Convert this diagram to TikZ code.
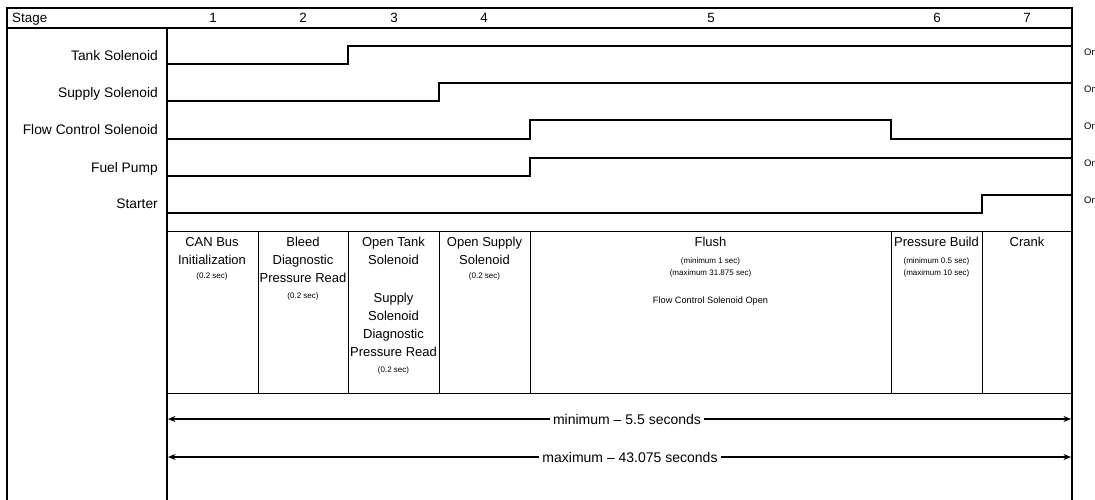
\documentclass[tikz,border=0pt]{standalone}
\usepackage{fontspec}
\setmainfont{Liberation Sans}
\usetikzlibrary{arrows.meta}
\begin{document}
\begin{tikzpicture}[x=1pt,y=-1pt,
  frame/.style={line width=2pt},
  boxline/.style={line width=0.9pt},
  sig/.style={line width=1.4pt},
  lbl/.style={anchor=base east, inner sep=0pt, font=\fontsize{13.8}{16}\selectfont},
  hdr/.style={anchor=base, inner sep=0pt, font=\fontsize{13.4}{16}\selectfont},
  big/.style={anchor=base, inner sep=0pt, font=\fontsize{13}{16}\selectfont},
  sml/.style={anchor=base, inner sep=0pt, font=\fontsize{8}{9}\selectfont},
  med/.style={anchor=base, inner sep=0pt, font=\fontsize{9.2}{11}\selectfont},
  onl/.style={anchor=base west, inner sep=0pt, font=\fontsize{9.5}{11}\selectfont},
  dim/.style={line width=2pt, {Stealth[length=7.5pt,width=6pt]}-{Stealth[length=7.5pt,width=6pt]}},
  dimtxt/.style={fill=white, inner xsep=3pt, inner ysep=1pt, font=\fontsize{14}{16}\selectfont}
]
\useasboundingbox (0,0) rectangle (1095,500);
\fill[white] (0,0) rectangle (1095,500);

% frame
\draw[frame] (7,506) -- (7,8) -- (1072,8) -- (1072,506);
\draw[frame] (7,28) -- (1072,28);
\draw[frame] (167,28) -- (167,506);

% stage boxes
\draw[boxline] (167,231) -- (1072,231);
\draw[boxline] (167,393) -- (1072,393);
\foreach \x in {258,348,439,530,891,982}
  \draw[boxline] (\x,231) -- (\x,393);

% signal traces
\draw[sig] (167,64) -- (348,64) -- (348,46) -- (1072,46);
\draw[sig] (167,101) -- (439,101) -- (439,83) -- (1072,83);
\draw[sig] (167,139) -- (530,139) -- (530,120) -- (891,120) -- (891,139) -- (1072,139);
\draw[sig] (167,176) -- (530,176) -- (530,158) -- (1072,158);
\draw[sig] (167,213) -- (982,213) -- (982,195) -- (1072,195);

% header
\node[hdr, anchor=base west] (hStage) at (12,23) {Stage};
\node[hdr] (h1) at (213,23) {1};
\node[hdr] (h2) at (303,23) {2};
\node[hdr] (h3) at (394,23) {3};
\node[hdr] (h4) at (484,23) {4};
\node[hdr] (h5) at (711,23) {5};
\node[hdr] (h6) at (937,23) {6};
\node[hdr] (h7) at (1027,23) {7};

% signal labels
\node[lbl] (lTank) at (158,61) {Tank Solenoid};
\node[lbl] (lSupply) at (158,98) {Supply Solenoid};
\node[lbl] (lFlow) at (158,135) {Flow Control Solenoid};
\node[lbl] (lFuel) at (158,172) {Fuel Pump};
\node[lbl] (lStarter) at (158,208) {Starter};

% On labels
\node[onl] (on1) at (1084,56) {On};
\node[onl] (on2) at (1084,93) {On};
\node[onl] (on3) at (1084,130) {On};
\node[onl] (on4) at (1084,167) {On};
\node[onl] (on5) at (1084,204) {On};

% stage 1
\node[big] (s1a) at (212,246.5) {CAN Bus};
\node[big] (s1b) at (212,264.5) {Initialization};
\node[sml] (s1c) at (212,278) {(0.2 sec)};
% stage 2
\node[big] (s2a) at (303,246.5) {Bleed};
\node[big] (s2b) at (303,264.5) {Diagnostic};
\node[big] (s2c) at (303,282.5) {Pressure Read};
\node[sml] (s2d) at (303,298) {(0.2 sec)};
% stage 3
\node[big] (s3a) at (393.5,246.5) {Open Tank};
\node[big] (s3b) at (393.5,264.5) {Solenoid};
\node[big] (s3c) at (393.5,302.5) {Supply};
\node[big] (s3d) at (393.5,320.5) {Solenoid};
\node[big] (s3e) at (393.5,338.5) {Diagnostic};
\node[big] (s3f) at (393.5,356.5) {Pressure Read};
\node[sml] (s3g) at (393.5,372) {(0.2 sec)};
% stage 4
\node[big] (s4a) at (484.5,246.5) {Open Supply};
\node[big] (s4b) at (484.5,264.5) {Solenoid};
\node[sml] (s4c) at (484.5,278) {(0.2 sec)};
% stage 5
\node[big] (s5a) at (710.5,246) {Flush};
\node[sml] (s5b) at (710.5,263) {(minimum 1 sec)};
\node[sml] (s5c) at (710.5,275) {(maximum 31.875 sec)};
\node[med] (s5d) at (710.5,303) {Flow Control Solenoid Open};
% stage 6
\node[big] (s6a) at (936.5,246) {Pressure Build};
\node[sml] (s6b) at (936.5,263) {(minimum 0.5 sec)};
\node[sml] (s6c) at (936.5,275) {(maximum 10 sec)};
% stage 7
\node[big] (s7a) at (1027,246) {Crank};

% duration arrows
\coordinate (minL) at (168,419);
\coordinate (minR) at (1071,419);
\coordinate (maxL) at (168,457);
\coordinate (maxR) at (1071,457);
\draw[dim] (minL) -- (minR);
\draw[dim] (maxL) -- (maxR);
\node[dimtxt] (tMin) at (627,419) {minimum -- 5.5 seconds};
\node[dimtxt] (tMax) at (630,457) {maximum -- 43.075 seconds};
\end{tikzpicture}
\end{document}
